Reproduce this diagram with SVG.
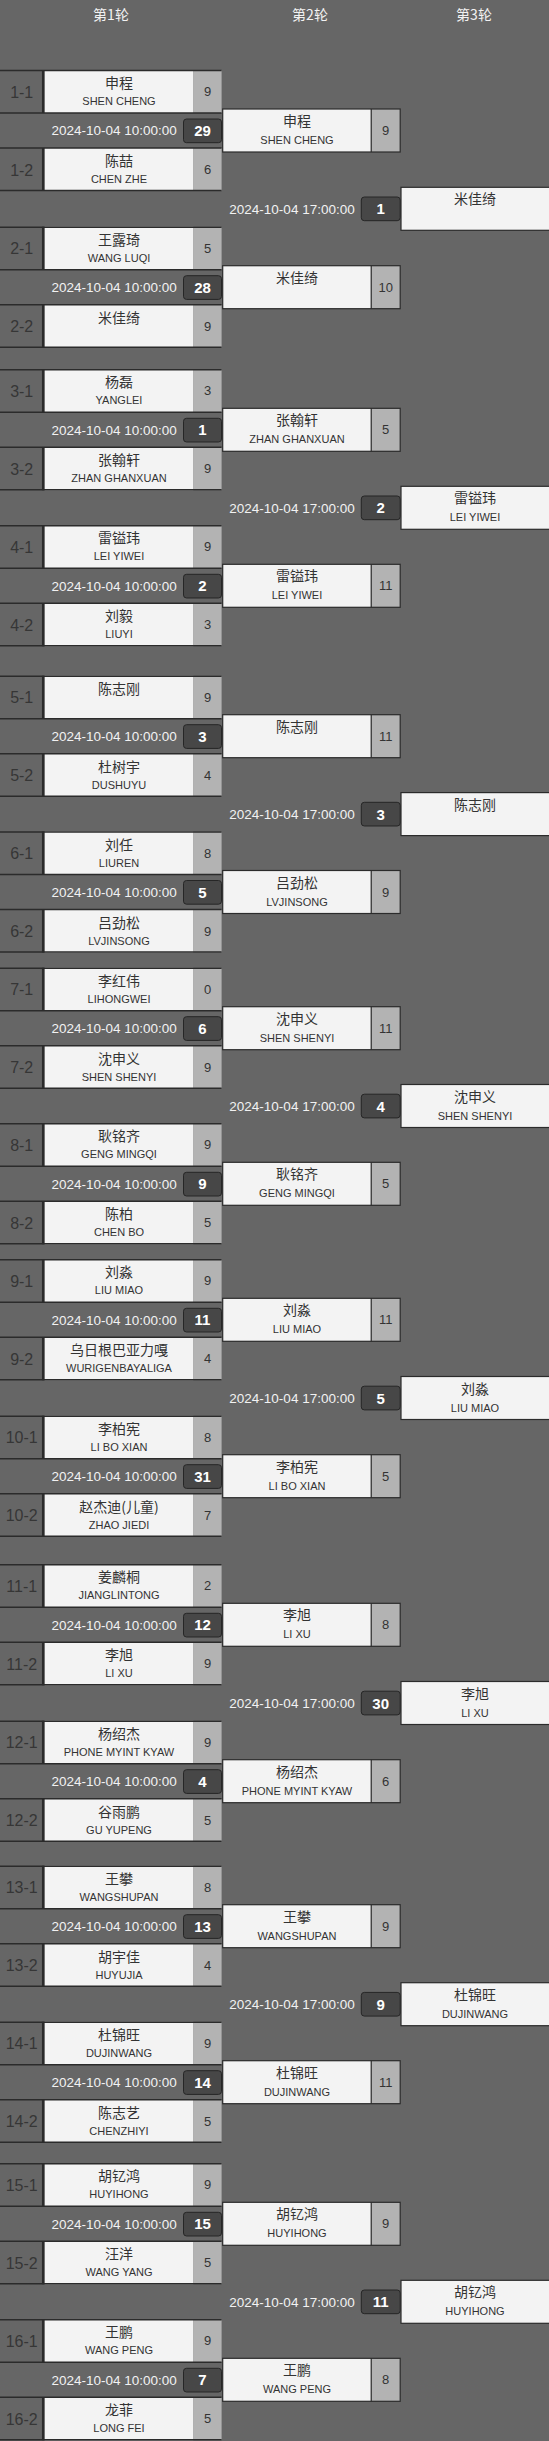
<svg xmlns="http://www.w3.org/2000/svg" width="549" height="2441" viewBox="0 0 549 2441">
<style>
.nm{fill:#f3f3f3}
.sc{fill:#b3b3b3}
.ln{stroke:#2b2b2b;stroke-width:1.5;fill:none}
.vl{stroke:#2b2b2b;stroke-width:2.5;fill:none}
.bx{fill:none;stroke:#2b2b2b;stroke-width:1.2}
.bd{fill:#474747;stroke:#262626;stroke-width:1}
text{font-family:"Liberation Sans","Noto Sans CJK SC",sans-serif;text-anchor:middle}
.hd{font-family:"Noto Sans CJK SC",sans-serif;font-size:14px;fill:#f2f2f2}
.lb{font-size:16px;fill:#363636}
.cn{font-family:"Noto Sans CJK SC",sans-serif;font-size:14px;fill:#333}
.en{font-size:11px;fill:#333}
.sn{font-size:13px;fill:#333}
.dt{font-size:13.5px;fill:#f2f2f2;text-anchor:end}
.bn{font-size:15px;font-weight:bold;fill:#fff}
</style>
<rect x="0" y="0" width="549" height="2441" fill="#666"/>
<g id="headers">
<text class="hd" x="111" y="20">第1轮</text>
<text class="hd" x="310" y="20">第2轮</text>
<text class="hd" x="474" y="20">第3轮</text>
</g>
<g id="connectors"/>

<!-- Round 1 matches -->
<g id="r1m1" transform="translate(0,70)">
<rect class="nm" x="44.5" y="0" width="149" height="43"/><rect class="sc" x="193.5" y="0" width="28.1" height="43"/>
<rect class="nm" x="44.5" y="78" width="149" height="43"/><rect class="sc" x="193.5" y="78" width="28.1" height="43"/>
<path class="ln" d="M0 0.5H221.6M0 43H221.6M0 78H221.6M0 120.5H221.6"/><path class="vl" d="M43.2 0V43M43.2 78V121"/>
<text class="lb" x="21.7" y="27.5">1-1</text><text class="cn" x="119" y="18">申程</text><text class="en" x="119" y="35">SHEN CHENG</text><text class="sn" x="207.6" y="26">9</text>
<text class="dt" x="176.8" y="65.3">2024-10-04 10:00:00</text><rect class="bd" x="183.5" y="49" width="38" height="23.7" rx="3"/><text class="bn" x="202.5" y="66">29</text>
<text class="lb" x="21.7" y="105.5">1-2</text><text class="cn" x="119" y="96">陈喆</text><text class="en" x="119" y="113">CHEN ZHE</text><text class="sn" x="207.6" y="104">6</text>
</g>
<g id="r1m2" transform="translate(0,226.7)">
<rect class="nm" x="44.5" y="0" width="149" height="43"/><rect class="sc" x="193.5" y="0" width="28.1" height="43"/>
<rect class="nm" x="44.5" y="78" width="149" height="43"/><rect class="sc" x="193.5" y="78" width="28.1" height="43"/>
<path class="ln" d="M0 0.5H221.6M0 43H221.6M0 78H221.6M0 120.5H221.6"/><path class="vl" d="M43.2 0V43M43.2 78V121"/>
<text class="lb" x="21.7" y="27.5">2-1</text><text class="cn" x="119" y="18">王露琦</text><text class="en" x="119" y="35">WANG LUQI</text><text class="sn" x="207.6" y="26">5</text>
<text class="dt" x="176.8" y="65.3">2024-10-04 10:00:00</text><rect class="bd" x="183.5" y="49" width="38" height="23.7" rx="3"/><text class="bn" x="202.5" y="66">28</text>
<text class="lb" x="21.7" y="105.5">2-2</text><text class="cn" x="119" y="96">米佳绮</text><text class="sn" x="207.6" y="104">9</text>
</g>
<g id="r1m3" transform="translate(0,369.3)">
<rect class="nm" x="44.5" y="0" width="149" height="43"/><rect class="sc" x="193.5" y="0" width="28.1" height="43"/>
<rect class="nm" x="44.5" y="78" width="149" height="43"/><rect class="sc" x="193.5" y="78" width="28.1" height="43"/>
<path class="ln" d="M0 0.5H221.6M0 43H221.6M0 78H221.6M0 120.5H221.6"/><path class="vl" d="M43.2 0V43M43.2 78V121"/>
<text class="lb" x="21.7" y="27.5">3-1</text><text class="cn" x="119" y="18">杨磊</text><text class="en" x="119" y="35">YANGLEI</text><text class="sn" x="207.6" y="26">3</text>
<text class="dt" x="176.8" y="65.3">2024-10-04 10:00:00</text><rect class="bd" x="183.5" y="49" width="38" height="23.7" rx="3"/><text class="bn" x="202.5" y="66">1</text>
<text class="lb" x="21.7" y="105.5">3-2</text><text class="cn" x="119" y="96">张翰轩</text><text class="en" x="119" y="113">ZHAN GHANXUAN</text><text class="sn" x="207.6" y="104">9</text>
</g>
<g id="r1m4" transform="translate(0,525.3)">
<rect class="nm" x="44.5" y="0" width="149" height="43"/><rect class="sc" x="193.5" y="0" width="28.1" height="43"/>
<rect class="nm" x="44.5" y="78" width="149" height="43"/><rect class="sc" x="193.5" y="78" width="28.1" height="43"/>
<path class="ln" d="M0 0.5H221.6M0 43H221.6M0 78H221.6M0 120.5H221.6"/><path class="vl" d="M43.2 0V43M43.2 78V121"/>
<text class="lb" x="21.7" y="27.5">4-1</text><text class="cn" x="119" y="18">雷镒玮</text><text class="en" x="119" y="35">LEI YIWEI</text><text class="sn" x="207.6" y="26">9</text>
<text class="dt" x="176.8" y="65.3">2024-10-04 10:00:00</text><rect class="bd" x="183.5" y="49" width="38" height="23.7" rx="3"/><text class="bn" x="202.5" y="66">2</text>
<text class="lb" x="21.7" y="105.5">4-2</text><text class="cn" x="119" y="96">刘毅</text><text class="en" x="119" y="113">LIUYI</text><text class="sn" x="207.6" y="104">3</text>
</g>
<g id="r1m5" transform="translate(0,675.7)">
<rect class="nm" x="44.5" y="0" width="149" height="43"/><rect class="sc" x="193.5" y="0" width="28.1" height="43"/>
<rect class="nm" x="44.5" y="78" width="149" height="43"/><rect class="sc" x="193.5" y="78" width="28.1" height="43"/>
<path class="ln" d="M0 0.5H221.6M0 43H221.6M0 78H221.6M0 120.5H221.6"/><path class="vl" d="M43.2 0V43M43.2 78V121"/>
<text class="lb" x="21.7" y="27.5">5-1</text><text class="cn" x="119" y="18">陈志刚</text><text class="sn" x="207.6" y="26">9</text>
<text class="dt" x="176.8" y="65.3">2024-10-04 10:00:00</text><rect class="bd" x="183.5" y="49" width="38" height="23.7" rx="3"/><text class="bn" x="202.5" y="66">3</text>
<text class="lb" x="21.7" y="105.5">5-2</text><text class="cn" x="119" y="96">杜树宇</text><text class="en" x="119" y="113">DUSHUYU</text><text class="sn" x="207.6" y="104">4</text>
</g>
<g id="r1m6" transform="translate(0,831.5)">
<rect class="nm" x="44.5" y="0" width="149" height="43"/><rect class="sc" x="193.5" y="0" width="28.1" height="43"/>
<rect class="nm" x="44.5" y="78" width="149" height="43"/><rect class="sc" x="193.5" y="78" width="28.1" height="43"/>
<path class="ln" d="M0 0.5H221.6M0 43H221.6M0 78H221.6M0 120.5H221.6"/><path class="vl" d="M43.2 0V43M43.2 78V121"/>
<text class="lb" x="21.7" y="27.5">6-1</text><text class="cn" x="119" y="18">刘任</text><text class="en" x="119" y="35">LIUREN</text><text class="sn" x="207.6" y="26">8</text>
<text class="dt" x="176.8" y="65.3">2024-10-04 10:00:00</text><rect class="bd" x="183.5" y="49" width="38" height="23.7" rx="3"/><text class="bn" x="202.5" y="66">5</text>
<text class="lb" x="21.7" y="105.5">6-2</text><text class="cn" x="119" y="96">吕劲松</text><text class="en" x="119" y="113">LVJINSONG</text><text class="sn" x="207.6" y="104">9</text>
</g>
<g id="r1m7" transform="translate(0,967.7)">
<rect class="nm" x="44.5" y="0" width="149" height="43"/><rect class="sc" x="193.5" y="0" width="28.1" height="43"/>
<rect class="nm" x="44.5" y="78" width="149" height="43"/><rect class="sc" x="193.5" y="78" width="28.1" height="43"/>
<path class="ln" d="M0 0.5H221.6M0 43H221.6M0 78H221.6M0 120.5H221.6"/><path class="vl" d="M43.2 0V43M43.2 78V121"/>
<text class="lb" x="21.7" y="27.5">7-1</text><text class="cn" x="119" y="18">李红伟</text><text class="en" x="119" y="35">LIHONGWEI</text><text class="sn" x="207.6" y="26">0</text>
<text class="dt" x="176.8" y="65.3">2024-10-04 10:00:00</text><rect class="bd" x="183.5" y="49" width="38" height="23.7" rx="3"/><text class="bn" x="202.5" y="66">6</text>
<text class="lb" x="21.7" y="105.5">7-2</text><text class="cn" x="119" y="96">沈申义</text><text class="en" x="119" y="113">SHEN SHENYI</text><text class="sn" x="207.6" y="104">9</text>
</g>
<g id="r1m8" transform="translate(0,1123.3)">
<rect class="nm" x="44.5" y="0" width="149" height="43"/><rect class="sc" x="193.5" y="0" width="28.1" height="43"/>
<rect class="nm" x="44.5" y="78" width="149" height="43"/><rect class="sc" x="193.5" y="78" width="28.1" height="43"/>
<path class="ln" d="M0 0.5H221.6M0 43H221.6M0 78H221.6M0 120.5H221.6"/><path class="vl" d="M43.2 0V43M43.2 78V121"/>
<text class="lb" x="21.7" y="27.5">8-1</text><text class="cn" x="119" y="18">耿铭齐</text><text class="en" x="119" y="35">GENG MINGQI</text><text class="sn" x="207.6" y="26">9</text>
<text class="dt" x="176.8" y="65.3">2024-10-04 10:00:00</text><rect class="bd" x="183.5" y="49" width="38" height="23.7" rx="3"/><text class="bn" x="202.5" y="66">9</text>
<text class="lb" x="21.7" y="105.5">8-2</text><text class="cn" x="119" y="96">陈柏</text><text class="en" x="119" y="113">CHEN BO</text><text class="sn" x="207.6" y="104">5</text>
</g>
<g id="r1m9" transform="translate(0,1259.3)">
<rect class="nm" x="44.5" y="0" width="149" height="43"/><rect class="sc" x="193.5" y="0" width="28.1" height="43"/>
<rect class="nm" x="44.5" y="78" width="149" height="43"/><rect class="sc" x="193.5" y="78" width="28.1" height="43"/>
<path class="ln" d="M0 0.5H221.6M0 43H221.6M0 78H221.6M0 120.5H221.6"/><path class="vl" d="M43.2 0V43M43.2 78V121"/>
<text class="lb" x="21.7" y="27.5">9-1</text><text class="cn" x="119" y="18">刘淼</text><text class="en" x="119" y="35">LIU MIAO</text><text class="sn" x="207.6" y="26">9</text>
<text class="dt" x="176.8" y="65.3">2024-10-04 10:00:00</text><rect class="bd" x="183.5" y="49" width="38" height="23.7" rx="3"/><text class="bn" x="202.5" y="66">11</text>
<text class="lb" x="21.7" y="105.5">9-2</text><text class="cn" x="119" y="96">乌日根巴亚力嘎</text><text class="en" x="119" y="113">WURIGENBAYALIGA</text><text class="sn" x="207.6" y="104">4</text>
</g>
<g id="r1m10" transform="translate(0,1415.7)">
<rect class="nm" x="44.5" y="0" width="149" height="43"/><rect class="sc" x="193.5" y="0" width="28.1" height="43"/>
<rect class="nm" x="44.5" y="78" width="149" height="43"/><rect class="sc" x="193.5" y="78" width="28.1" height="43"/>
<path class="ln" d="M0 0.5H221.6M0 43H221.6M0 78H221.6M0 120.5H221.6"/><path class="vl" d="M43.2 0V43M43.2 78V121"/>
<text class="lb" x="21.7" y="27.5">10-1</text><text class="cn" x="119" y="18">李柏宪</text><text class="en" x="119" y="35">LI BO XIAN</text><text class="sn" x="207.6" y="26">8</text>
<text class="dt" x="176.8" y="65.3">2024-10-04 10:00:00</text><rect class="bd" x="183.5" y="49" width="38" height="23.7" rx="3"/><text class="bn" x="202.5" y="66">31</text>
<text class="lb" x="21.7" y="105.5">10-2</text><text class="cn" x="119" y="96">赵杰迪(儿童)</text><text class="en" x="119" y="113">ZHAO JIEDI</text><text class="sn" x="207.6" y="104">7</text>
</g>
<g id="r1m11" transform="translate(0,1564.3)">
<rect class="nm" x="44.5" y="0" width="149" height="43"/><rect class="sc" x="193.5" y="0" width="28.1" height="43"/>
<rect class="nm" x="44.5" y="78" width="149" height="43"/><rect class="sc" x="193.5" y="78" width="28.1" height="43"/>
<path class="ln" d="M0 0.5H221.6M0 43H221.6M0 78H221.6M0 120.5H221.6"/><path class="vl" d="M43.2 0V43M43.2 78V121"/>
<text class="lb" x="21.7" y="27.5">11-1</text><text class="cn" x="119" y="18">姜麟桐</text><text class="en" x="119" y="35">JIANGLINTONG</text><text class="sn" x="207.6" y="26">2</text>
<text class="dt" x="176.8" y="65.3">2024-10-04 10:00:00</text><rect class="bd" x="183.5" y="49" width="38" height="23.7" rx="3"/><text class="bn" x="202.5" y="66">12</text>
<text class="lb" x="21.7" y="105.5">11-2</text><text class="cn" x="119" y="96">李旭</text><text class="en" x="119" y="113">LI XU</text><text class="sn" x="207.6" y="104">9</text>
</g>
<g id="r1m12" transform="translate(0,1720.7)">
<rect class="nm" x="44.5" y="0" width="149" height="43"/><rect class="sc" x="193.5" y="0" width="28.1" height="43"/>
<rect class="nm" x="44.5" y="78" width="149" height="43"/><rect class="sc" x="193.5" y="78" width="28.1" height="43"/>
<path class="ln" d="M0 0.5H221.6M0 43H221.6M0 78H221.6M0 120.5H221.6"/><path class="vl" d="M43.2 0V43M43.2 78V121"/>
<text class="lb" x="21.7" y="27.5">12-1</text><text class="cn" x="119" y="18">杨绍杰</text><text class="en" x="119" y="35">PHONE MYINT KYAW</text><text class="sn" x="207.6" y="26">9</text>
<text class="dt" x="176.8" y="65.3">2024-10-04 10:00:00</text><rect class="bd" x="183.5" y="49" width="38" height="23.7" rx="3"/><text class="bn" x="202.5" y="66">4</text>
<text class="lb" x="21.7" y="105.5">12-2</text><text class="cn" x="119" y="96">谷雨鹏</text><text class="en" x="119" y="113">GU YUPENG</text><text class="sn" x="207.6" y="104">5</text>
</g>
<g id="r1m13" transform="translate(0,1865.7)">
<rect class="nm" x="44.5" y="0" width="149" height="43"/><rect class="sc" x="193.5" y="0" width="28.1" height="43"/>
<rect class="nm" x="44.5" y="78" width="149" height="43"/><rect class="sc" x="193.5" y="78" width="28.1" height="43"/>
<path class="ln" d="M0 0.5H221.6M0 43H221.6M0 78H221.6M0 120.5H221.6"/><path class="vl" d="M43.2 0V43M43.2 78V121"/>
<text class="lb" x="21.7" y="27.5">13-1</text><text class="cn" x="119" y="18">王攀</text><text class="en" x="119" y="35">WANGSHUPAN</text><text class="sn" x="207.6" y="26">8</text>
<text class="dt" x="176.8" y="65.3">2024-10-04 10:00:00</text><rect class="bd" x="183.5" y="49" width="38" height="23.7" rx="3"/><text class="bn" x="202.5" y="66">13</text>
<text class="lb" x="21.7" y="105.5">13-2</text><text class="cn" x="119" y="96">胡宇佳</text><text class="en" x="119" y="113">HUYUJIA</text><text class="sn" x="207.6" y="104">4</text>
</g>
<g id="r1m14" transform="translate(0,2021.7)">
<rect class="nm" x="44.5" y="0" width="149" height="43"/><rect class="sc" x="193.5" y="0" width="28.1" height="43"/>
<rect class="nm" x="44.5" y="78" width="149" height="43"/><rect class="sc" x="193.5" y="78" width="28.1" height="43"/>
<path class="ln" d="M0 0.5H221.6M0 43H221.6M0 78H221.6M0 120.5H221.6"/><path class="vl" d="M43.2 0V43M43.2 78V121"/>
<text class="lb" x="21.7" y="27.5">14-1</text><text class="cn" x="119" y="18">杜锦旺</text><text class="en" x="119" y="35">DUJINWANG</text><text class="sn" x="207.6" y="26">9</text>
<text class="dt" x="176.8" y="65.3">2024-10-04 10:00:00</text><rect class="bd" x="183.5" y="49" width="38" height="23.7" rx="3"/><text class="bn" x="202.5" y="66">14</text>
<text class="lb" x="21.7" y="105.5">14-2</text><text class="cn" x="119" y="96">陈志艺</text><text class="en" x="119" y="113">CHENZHIYI</text><text class="sn" x="207.6" y="104">5</text>
</g>
<g id="r1m15" transform="translate(0,2163.3)">
<rect class="nm" x="44.5" y="0" width="149" height="43"/><rect class="sc" x="193.5" y="0" width="28.1" height="43"/>
<rect class="nm" x="44.5" y="78" width="149" height="43"/><rect class="sc" x="193.5" y="78" width="28.1" height="43"/>
<path class="ln" d="M0 0.5H221.6M0 43H221.6M0 78H221.6M0 120.5H221.6"/><path class="vl" d="M43.2 0V43M43.2 78V121"/>
<text class="lb" x="21.7" y="27.5">15-1</text><text class="cn" x="119" y="18">胡钇鸿</text><text class="en" x="119" y="35">HUYIHONG</text><text class="sn" x="207.6" y="26">9</text>
<text class="dt" x="176.8" y="65.3">2024-10-04 10:00:00</text><rect class="bd" x="183.5" y="49" width="38" height="23.7" rx="3"/><text class="bn" x="202.5" y="66">15</text>
<text class="lb" x="21.7" y="105.5">15-2</text><text class="cn" x="119" y="96">汪洋</text><text class="en" x="119" y="113">WANG YANG</text><text class="sn" x="207.6" y="104">5</text>
</g>
<g id="r1m16" transform="translate(0,2319.3)">
<rect class="nm" x="44.5" y="0" width="149" height="43"/><rect class="sc" x="193.5" y="0" width="28.1" height="43"/>
<rect class="nm" x="44.5" y="78" width="149" height="43"/><rect class="sc" x="193.5" y="78" width="28.1" height="43"/>
<path class="ln" d="M0 0.5H221.6M0 43H221.6M0 78H221.6M0 120.5H221.6"/><path class="vl" d="M43.2 0V43M43.2 78V121"/>
<text class="lb" x="21.7" y="27.5">16-1</text><text class="cn" x="119" y="18">王鹏</text><text class="en" x="119" y="35">WANG PENG</text><text class="sn" x="207.6" y="26">9</text>
<text class="dt" x="176.8" y="65.3">2024-10-04 10:00:00</text><rect class="bd" x="183.5" y="49" width="38" height="23.7" rx="3"/><text class="bn" x="202.5" y="66">7</text>
<text class="lb" x="21.7" y="105.5">16-2</text><text class="cn" x="119" y="96">龙菲</text><text class="en" x="119" y="113">LONG FEI</text><text class="sn" x="207.6" y="104">5</text>
</g>

<!-- Round 2 -->
<g id="r2m1" transform="translate(0,109)"><rect class="nm" x="222.7" y="0" width="148.5" height="43"/><rect class="sc" x="371.2" y="0" width="29" height="43"/><rect class="bx" x="222.7" y="0" width="177.5" height="43"/><path class="bx" d="M371.2 0V43"/><text class="cn" x="297" y="17">申程</text><text class="en" x="297" y="35">SHEN CHENG</text><text class="sn" x="385.7" y="26">9</text></g>
<g id="r2m2" transform="translate(0,265.7)"><rect class="nm" x="222.7" y="0" width="148.5" height="43"/><rect class="sc" x="371.2" y="0" width="29" height="43"/><rect class="bx" x="222.7" y="0" width="177.5" height="43"/><path class="bx" d="M371.2 0V43"/><text class="cn" x="297" y="17">米佳绮</text><text class="sn" x="385.7" y="26">10</text></g>
<g id="r2m3" transform="translate(0,408.3)"><rect class="nm" x="222.7" y="0" width="148.5" height="43"/><rect class="sc" x="371.2" y="0" width="29" height="43"/><rect class="bx" x="222.7" y="0" width="177.5" height="43"/><path class="bx" d="M371.2 0V43"/><text class="cn" x="297" y="17">张翰轩</text><text class="en" x="297" y="35">ZHAN GHANXUAN</text><text class="sn" x="385.7" y="26">5</text></g>
<g id="r2m4" transform="translate(0,564.3)"><rect class="nm" x="222.7" y="0" width="148.5" height="43"/><rect class="sc" x="371.2" y="0" width="29" height="43"/><rect class="bx" x="222.7" y="0" width="177.5" height="43"/><path class="bx" d="M371.2 0V43"/><text class="cn" x="297" y="17">雷镒玮</text><text class="en" x="297" y="35">LEI YIWEI</text><text class="sn" x="385.7" y="26">11</text></g>
<g id="r2m5" transform="translate(0,714.7)"><rect class="nm" x="222.7" y="0" width="148.5" height="43"/><rect class="sc" x="371.2" y="0" width="29" height="43"/><rect class="bx" x="222.7" y="0" width="177.5" height="43"/><path class="bx" d="M371.2 0V43"/><text class="cn" x="297" y="17">陈志刚</text><text class="sn" x="385.7" y="26">11</text></g>
<g id="r2m6" transform="translate(0,870.5)"><rect class="nm" x="222.7" y="0" width="148.5" height="43"/><rect class="sc" x="371.2" y="0" width="29" height="43"/><rect class="bx" x="222.7" y="0" width="177.5" height="43"/><path class="bx" d="M371.2 0V43"/><text class="cn" x="297" y="17">吕劲松</text><text class="en" x="297" y="35">LVJINSONG</text><text class="sn" x="385.7" y="26">9</text></g>
<g id="r2m7" transform="translate(0,1006.7)"><rect class="nm" x="222.7" y="0" width="148.5" height="43"/><rect class="sc" x="371.2" y="0" width="29" height="43"/><rect class="bx" x="222.7" y="0" width="177.5" height="43"/><path class="bx" d="M371.2 0V43"/><text class="cn" x="297" y="17">沈申义</text><text class="en" x="297" y="35">SHEN SHENYI</text><text class="sn" x="385.7" y="26">11</text></g>
<g id="r2m8" transform="translate(0,1162.3)"><rect class="nm" x="222.7" y="0" width="148.5" height="43"/><rect class="sc" x="371.2" y="0" width="29" height="43"/><rect class="bx" x="222.7" y="0" width="177.5" height="43"/><path class="bx" d="M371.2 0V43"/><text class="cn" x="297" y="17">耿铭齐</text><text class="en" x="297" y="35">GENG MINGQI</text><text class="sn" x="385.7" y="26">5</text></g>
<g id="r2m9" transform="translate(0,1298.3)"><rect class="nm" x="222.7" y="0" width="148.5" height="43"/><rect class="sc" x="371.2" y="0" width="29" height="43"/><rect class="bx" x="222.7" y="0" width="177.5" height="43"/><path class="bx" d="M371.2 0V43"/><text class="cn" x="297" y="17">刘淼</text><text class="en" x="297" y="35">LIU MIAO</text><text class="sn" x="385.7" y="26">11</text></g>
<g id="r2m10" transform="translate(0,1454.7)"><rect class="nm" x="222.7" y="0" width="148.5" height="43"/><rect class="sc" x="371.2" y="0" width="29" height="43"/><rect class="bx" x="222.7" y="0" width="177.5" height="43"/><path class="bx" d="M371.2 0V43"/><text class="cn" x="297" y="17">李柏宪</text><text class="en" x="297" y="35">LI BO XIAN</text><text class="sn" x="385.7" y="26">5</text></g>
<g id="r2m11" transform="translate(0,1603.3)"><rect class="nm" x="222.7" y="0" width="148.5" height="43"/><rect class="sc" x="371.2" y="0" width="29" height="43"/><rect class="bx" x="222.7" y="0" width="177.5" height="43"/><path class="bx" d="M371.2 0V43"/><text class="cn" x="297" y="17">李旭</text><text class="en" x="297" y="35">LI XU</text><text class="sn" x="385.7" y="26">8</text></g>
<g id="r2m12" transform="translate(0,1759.7)"><rect class="nm" x="222.7" y="0" width="148.5" height="43"/><rect class="sc" x="371.2" y="0" width="29" height="43"/><rect class="bx" x="222.7" y="0" width="177.5" height="43"/><path class="bx" d="M371.2 0V43"/><text class="cn" x="297" y="17">杨绍杰</text><text class="en" x="297" y="35">PHONE MYINT KYAW</text><text class="sn" x="385.7" y="26">6</text></g>
<g id="r2m13" transform="translate(0,1904.7)"><rect class="nm" x="222.7" y="0" width="148.5" height="43"/><rect class="sc" x="371.2" y="0" width="29" height="43"/><rect class="bx" x="222.7" y="0" width="177.5" height="43"/><path class="bx" d="M371.2 0V43"/><text class="cn" x="297" y="17">王攀</text><text class="en" x="297" y="35">WANGSHUPAN</text><text class="sn" x="385.7" y="26">9</text></g>
<g id="r2m14" transform="translate(0,2060.7)"><rect class="nm" x="222.7" y="0" width="148.5" height="43"/><rect class="sc" x="371.2" y="0" width="29" height="43"/><rect class="bx" x="222.7" y="0" width="177.5" height="43"/><path class="bx" d="M371.2 0V43"/><text class="cn" x="297" y="17">杜锦旺</text><text class="en" x="297" y="35">DUJINWANG</text><text class="sn" x="385.7" y="26">11</text></g>
<g id="r2m15" transform="translate(0,2202.3)"><rect class="nm" x="222.7" y="0" width="148.5" height="43"/><rect class="sc" x="371.2" y="0" width="29" height="43"/><rect class="bx" x="222.7" y="0" width="177.5" height="43"/><path class="bx" d="M371.2 0V43"/><text class="cn" x="297" y="17">胡钇鸿</text><text class="en" x="297" y="35">HUYIHONG</text><text class="sn" x="385.7" y="26">9</text></g>
<g id="r2m16" transform="translate(0,2358.3)"><rect class="nm" x="222.7" y="0" width="148.5" height="43"/><rect class="sc" x="371.2" y="0" width="29" height="43"/><rect class="bx" x="222.7" y="0" width="177.5" height="43"/><path class="bx" d="M371.2 0V43"/><text class="cn" x="297" y="17">王鹏</text><text class="en" x="297" y="35">WANG PENG</text><text class="sn" x="385.7" y="26">8</text></g>

<!-- Round 3 -->
<g id="r3m1" transform="translate(0,187.3)"><text class="dt" x="354.7" y="26.3">2024-10-04 17:00:00</text><rect class="bd" x="361.3" y="9.7" width="38.9" height="23.7" rx="3"/><text class="bn" x="380.7" y="27">1</text><rect class="nm" x="401" y="0" width="150" height="43"/><rect class="bx" x="401" y="0" width="150" height="43"/><text class="cn" x="475" y="17">米佳绮</text></g>
<g id="r3m2" transform="translate(0,486.3)"><text class="dt" x="354.7" y="26.3">2024-10-04 17:00:00</text><rect class="bd" x="361.3" y="9.7" width="38.9" height="23.7" rx="3"/><text class="bn" x="380.7" y="27">2</text><rect class="nm" x="401" y="0" width="150" height="43"/><rect class="bx" x="401" y="0" width="150" height="43"/><text class="cn" x="475" y="17">雷镒玮</text><text class="en" x="475" y="35">LEI YIWEI</text></g>
<g id="r3m3" transform="translate(0,792.6)"><text class="dt" x="354.7" y="26.3">2024-10-04 17:00:00</text><rect class="bd" x="361.3" y="9.7" width="38.9" height="23.7" rx="3"/><text class="bn" x="380.7" y="27">3</text><rect class="nm" x="401" y="0" width="150" height="43"/><rect class="bx" x="401" y="0" width="150" height="43"/><text class="cn" x="475" y="17">陈志刚</text></g>
<g id="r3m4" transform="translate(0,1084.5)"><text class="dt" x="354.7" y="26.3">2024-10-04 17:00:00</text><rect class="bd" x="361.3" y="9.7" width="38.9" height="23.7" rx="3"/><text class="bn" x="380.7" y="27">4</text><rect class="nm" x="401" y="0" width="150" height="43"/><rect class="bx" x="401" y="0" width="150" height="43"/><text class="cn" x="475" y="17">沈申义</text><text class="en" x="475" y="35">SHEN SHENYI</text></g>
<g id="r3m5" transform="translate(0,1376.5)"><text class="dt" x="354.7" y="26.3">2024-10-04 17:00:00</text><rect class="bd" x="361.3" y="9.7" width="38.9" height="23.7" rx="3"/><text class="bn" x="380.7" y="27">5</text><rect class="nm" x="401" y="0" width="150" height="43"/><rect class="bx" x="401" y="0" width="150" height="43"/><text class="cn" x="475" y="17">刘淼</text><text class="en" x="475" y="35">LIU MIAO</text></g>
<g id="r3m6" transform="translate(0,1681.5)"><text class="dt" x="354.7" y="26.3">2024-10-04 17:00:00</text><rect class="bd" x="361.3" y="9.7" width="38.9" height="23.7" rx="3"/><text class="bn" x="380.7" y="27">30</text><rect class="nm" x="401" y="0" width="150" height="43"/><rect class="bx" x="401" y="0" width="150" height="43"/><text class="cn" x="475" y="17">李旭</text><text class="en" x="475" y="35">LI XU</text></g>
<g id="r3m7" transform="translate(0,1982.7)"><text class="dt" x="354.7" y="26.3">2024-10-04 17:00:00</text><rect class="bd" x="361.3" y="9.7" width="38.9" height="23.7" rx="3"/><text class="bn" x="380.7" y="27">9</text><rect class="nm" x="401" y="0" width="150" height="43"/><rect class="bx" x="401" y="0" width="150" height="43"/><text class="cn" x="475" y="17">杜锦旺</text><text class="en" x="475" y="35">DUJINWANG</text></g>
<g id="r3m8" transform="translate(0,2280.3)"><text class="dt" x="354.7" y="26.3">2024-10-04 17:00:00</text><rect class="bd" x="361.3" y="9.7" width="38.9" height="23.7" rx="3"/><text class="bn" x="380.7" y="27">11</text><rect class="nm" x="401" y="0" width="150" height="43"/><rect class="bx" x="401" y="0" width="150" height="43"/><text class="cn" x="475" y="17">胡钇鸿</text><text class="en" x="475" y="35">HUYIHONG</text></g>
</svg>
